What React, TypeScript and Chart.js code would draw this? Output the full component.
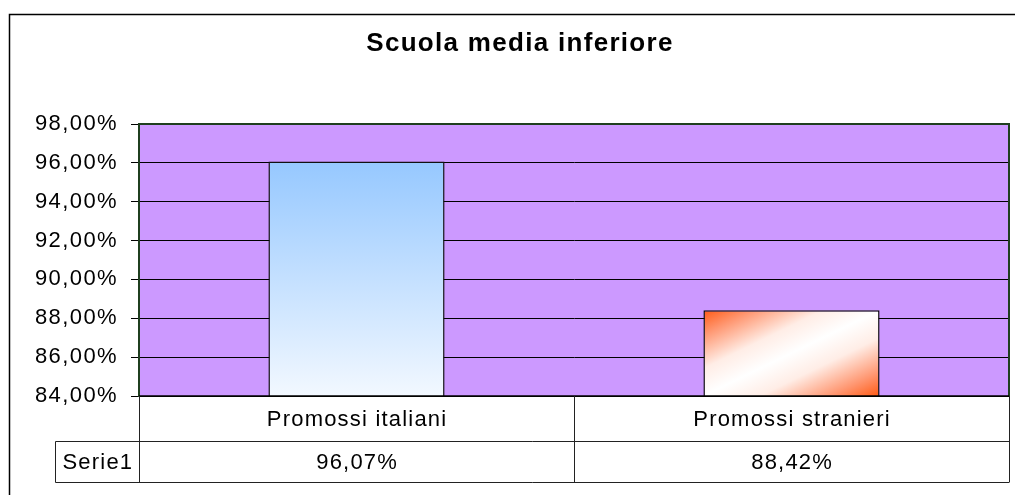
import React, { useEffect, useRef } from 'react';
import Chart from 'chart.js/auto';

const chartTitle = 'Scuola media inferiore';
const categories = ['Promossi italiani', 'Promossi stranieri'];
const seriesName = 'Serie1';
const seriesValues = [96.07, 88.42];
const yMin = 84;
const yMax = 98;
const yStep = 2;

const FONT = "'Liberation Sans', Arial, sans-serif";
const BAR_PCT = 0.405;

const fmt = (v: number) => v.toFixed(2).replace('.', ',') + '%';

function barFill(ctx: any) {
  const chart = ctx.chart;
  const area = chart.chartArea;
  if (!area || ctx.type !== 'data') return '#99CCFF';
  const xs = chart.scales.x;
  const ys = chart.scales.y;
  const i = ctx.dataIndex;
  const v = ctx.raw as number;
  const cx = xs.getPixelForValue(i);
  const w = (xs.width / categories.length) * BAR_PCT;
  const top = ys.getPixelForValue(v);
  const base = ys.getPixelForValue(yMin);
  const c = chart.ctx as CanvasRenderingContext2D;
  if (i === 0) {
    const g = c.createLinearGradient(0, top, 0, base);
    g.addColorStop(0, '#96C8FF');
    g.addColorStop(1, '#F2F8FF');
    return g;
  }
  const left = cx - w / 2;
  const right = cx + w / 2;
  const h = base - top;
  const midX = (left + right) / 2;
  const midY = (top + base) / 2;
  const vx = h;
  const vy = w;
  const len = Math.sqrt(vx * vx + vy * vy);
  const ux = vx / len;
  const uy = vy / len;
  const proj = Math.abs((-w / 2) * ux + (-h / 2) * uy);
  const g = c.createLinearGradient(midX - ux * proj, midY - uy * proj, midX + ux * proj, midY + uy * proj);
  g.addColorStop(0, '#FF5A14');
  g.addColorStop(0.14, '#FF9670');
  g.addColorStop(0.34, '#FFEDE6');
  g.addColorStop(0.5, '#FFFFFF');
  g.addColorStop(0.66, '#FFEDE6');
  g.addColorStop(0.86, '#FF9670');
  g.addColorStop(1, '#FF5A14');
  return g;
}

const framePlugin = {
  id: 'framePlugin',
  beforeDraw(chart: any) {
    const ctx = chart.ctx as CanvasRenderingContext2D;
    const a = chart.chartArea;
    ctx.save();
    ctx.fillStyle = '#CC99FF';
    ctx.fillRect(a.left, a.top, a.right - a.left, a.bottom - a.top);
    ctx.restore();
    (ctx as any).letterSpacing = '1.4px';
  },
  afterDraw(chart: any) {
    const ctx = chart.ctx as CanvasRenderingContext2D;
    const a = chart.chartArea;
    const xs = chart.scales.x;
    ctx.save();
    (ctx as any).letterSpacing = '0px';

    // outer chart border
    ctx.strokeStyle = '#000';
    ctx.lineWidth = 1.5;
    ctx.beginPath();
    ctx.moveTo(9.5, chart.height + 2);
    ctx.lineTo(9.5, 14.5);
    ctx.lineTo(chart.width + 2, 14.5);
    ctx.stroke();

    // plot area border
    ctx.strokeStyle = '#1F3F1F';
    ctx.lineWidth = 2;
    ctx.beginPath();
    ctx.moveTo(a.left, a.bottom);
    ctx.lineTo(a.left, a.top);
    ctx.lineTo(a.right, a.top);
    ctx.lineTo(a.right, a.bottom);
    ctx.stroke();
    ctx.strokeStyle = '#000';
    ctx.lineWidth = 1.5;
    ctx.beginPath();
    ctx.moveTo(a.left, a.bottom);
    ctx.lineTo(a.right, a.bottom);
    ctx.stroke();

    // data table
    const row1Top = a.bottom;
    const row2Top = a.bottom + 45;
    const row2Bot = a.bottom + 86;
    const nameLeft = 55.5;
    const n = categories.length;
    const bounds: number[] = [a.left];
    for (let i = 0; i < n - 1; i++) {
      bounds.push((xs.getPixelForValue(i) + xs.getPixelForValue(i + 1)) / 2);
    }
    bounds.push(a.right);

    ctx.strokeStyle = '#222';
    ctx.lineWidth = 1;
    ctx.beginPath();
    ctx.moveTo(nameLeft, Math.round(row2Top) + 0.5);
    ctx.lineTo(a.right, Math.round(row2Top) + 0.5);
    ctx.moveTo(nameLeft, Math.round(row2Bot) + 0.5);
    ctx.lineTo(a.right, Math.round(row2Bot) + 0.5);
    ctx.moveTo(nameLeft, Math.round(row2Top) + 0.5);
    ctx.lineTo(nameLeft, Math.round(row2Bot) + 0.5);
    bounds.forEach((b) => {
      const bx = Math.round(b) + 0.5;
      ctx.moveTo(bx, row1Top);
      ctx.lineTo(bx, Math.round(row2Bot) + 0.5);
    });
    ctx.stroke();

    (ctx as any).letterSpacing = '1.2px';
    ctx.fillStyle = '#000';
    ctx.font = `22px ${FONT}`;
    ctx.textAlign = 'center';
    ctx.textBaseline = 'alphabetic';
    categories.forEach((c, i) => {
      ctx.fillText(c, xs.getPixelForValue(i) + 0.6, row1Top + 30);
    });
    seriesValues.forEach((v, i) => {
      ctx.fillText(fmt(v), xs.getPixelForValue(i) + 0.6, row2Top + 28);
    });
    ctx.fillText(seriesName, (nameLeft + a.left) / 2 + 0.6, row2Top + 28);

    // title
    (ctx as any).letterSpacing = '1.3px';
    ctx.font = `bold 26px ${FONT}`;
    ctx.fillText(chartTitle, 520, 51);
    ctx.restore();
  },
};

export default function App() {
  const ref = useRef<HTMLCanvasElement | null>(null);
  useEffect(() => {
    if (!ref.current) return;
    const chart = new Chart(ref.current, {
      type: 'bar',
      data: {
        labels: categories,
        datasets: [
          {
            label: seriesName,
            data: seriesValues,
            backgroundColor: barFill as any,
            borderColor: '#111',
            borderWidth: 1.5,
            borderSkipped: false,
            categoryPercentage: 1,
            barPercentage: BAR_PCT,
          },
        ],
      },
      options: {
        animation: false,
        responsive: false,
        layout: { padding: { top: 124, bottom: 99, left: 0, right: 6 } },
        plugins: {
          legend: { display: false },
          title: { display: false },
          tooltip: { enabled: false },
        },
        scales: {
          x: { display: false },
          y: {
            min: yMin,
            max: yMax,
            afterFit: (scale: any) => {
              scale.width = 139;
            },
            ticks: {
              stepSize: yStep,
              padding: 13,
              color: '#000',
              font: { family: FONT, size: 22 },
              callback: (v: any) => fmt(Number(v)),
            },
            grid: {
              color: '#000',
              lineWidth: 1,
              tickLength: 8,
              tickColor: '#000',
              drawOnChartArea: true,
            },
            border: { display: true, color: '#1F3F1F', width: 2 },
          },
        },
      },
      plugins: [framePlugin],
    });
    return () => chart.destroy();
  }, []);
  return (
    <div style={{ position: 'absolute', left: 0, top: 0, width: 1015, height: 495, background: '#fff' }}>
      <canvas ref={ref} width={1015} height={495} style={{ display: 'block', width: 1015, height: 495 }} />
    </div>
  );
}
